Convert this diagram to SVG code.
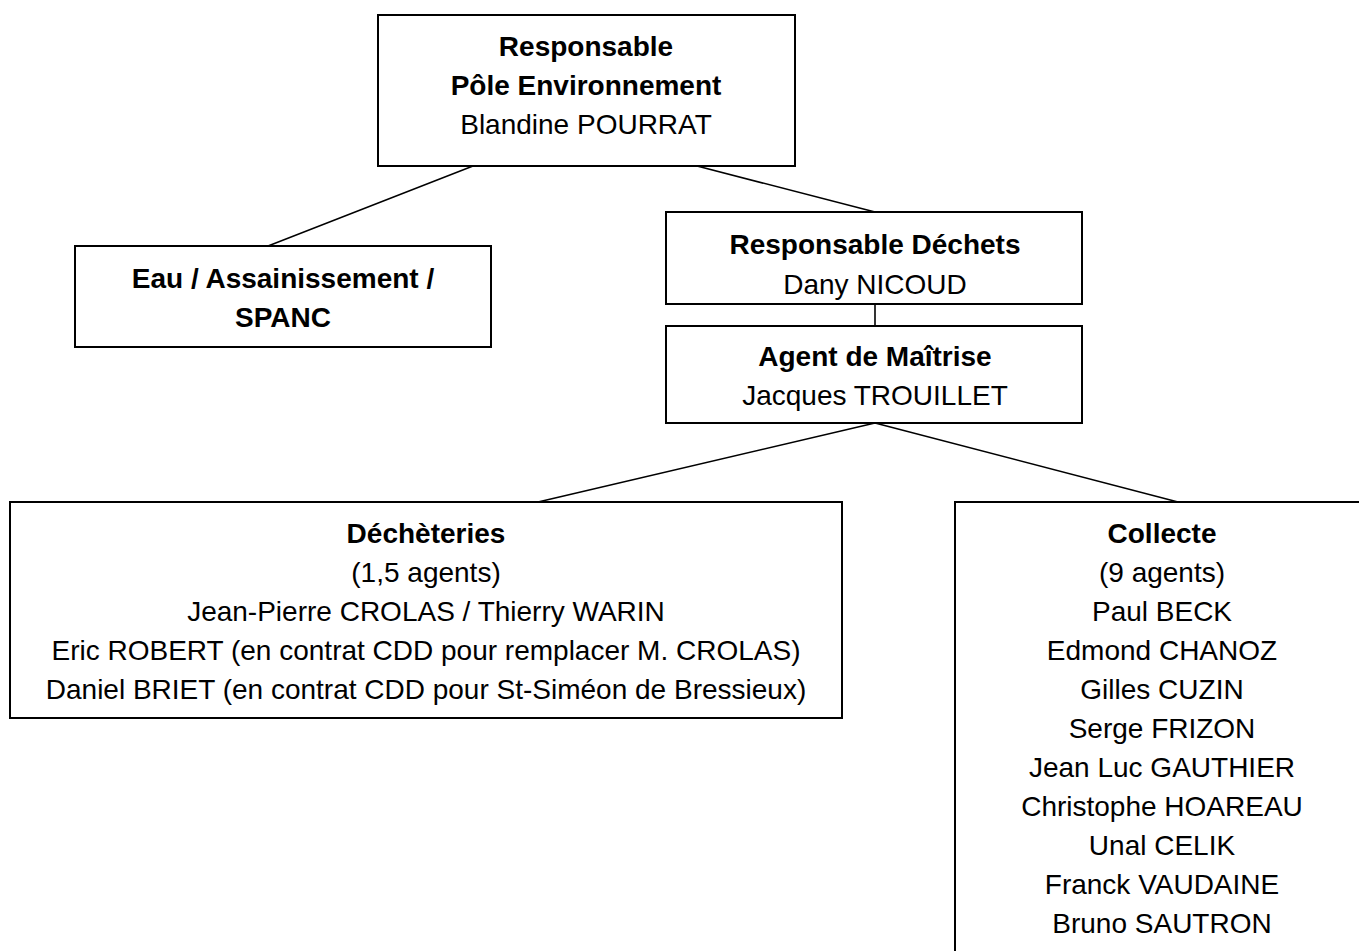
<svg xmlns="http://www.w3.org/2000/svg" width="1359" height="951" viewBox="0 0 1359 951">
<style>
.box{fill:#fff;stroke:#000;stroke-width:2}
.t{font-family:"Liberation Sans",Arial,sans-serif;font-size:28px;fill:#000;text-anchor:middle}
.b{font-weight:bold}
.c{stroke:#000;stroke-width:1.6;fill:none}
</style>
<rect width="1359" height="951" fill="#fff"/>
<g id="connectors">
<line class="c" x1="473" y1="166" x2="268" y2="246"/>
<line class="c" x1="697" y1="166" x2="875" y2="212"/>
<line class="c" x1="875" y1="304" x2="875" y2="326"/>
<line class="c" x1="875" y1="423" x2="538" y2="502"/>
<line class="c" x1="875" y1="423" x2="1178" y2="502"/>
</g>
<g id="responsable-pole">
<rect class="box" x="378" y="15" width="417" height="151"/>
<text class="t b" x="586" y="56">Responsable</text>
<text class="t b" x="586" y="95">Pôle Environnement</text>
<text class="t" x="586" y="134">Blandine POURRAT</text>
</g>
<g id="eau">
<rect class="box" x="75" y="246" width="416" height="101"/>
<text class="t b" x="283" y="288">Eau / Assainissement /</text>
<text class="t b" x="283" y="327">SPANC</text>
</g>
<g id="responsable-dechets">
<rect class="box" x="666" y="212" width="416" height="92"/>
<text class="t b" x="875" y="254">Responsable Déchets</text>
<text class="t" x="875" y="294">Dany NICOUD</text>
</g>
<g id="agent-maitrise">
<rect class="box" x="666" y="326" width="416" height="97"/>
<text class="t b" x="875" y="366">Agent de Maîtrise</text>
<text class="t" x="875" y="405">Jacques TROUILLET</text>
</g>
<g id="decheteries">
<rect class="box" x="10" y="502" width="832" height="216"/>
<text class="t b" x="426" y="543">Déchèteries</text>
<text class="t" x="426" y="582">(1,5 agents)</text>
<text class="t" x="426" y="621">Jean-Pierre CROLAS / Thierry WARIN</text>
<text class="t" x="426" y="660">Eric ROBERT (en contrat CDD pour remplacer M. CROLAS)</text>
<text class="t" x="426" y="699">Daniel BRIET (en contrat CDD pour St-Siméon de Bressieux)</text>
</g>
<g id="collecte">
<path class="box" d="M955,960 V502 H1370"/>
<text class="t b" x="1162" y="543">Collecte</text>
<text class="t" x="1162" y="582">(9 agents)</text>
<text class="t" x="1162" y="621">Paul BECK</text>
<text class="t" x="1162" y="660">Edmond CHANOZ</text>
<text class="t" x="1162" y="699">Gilles CUZIN</text>
<text class="t" x="1162" y="738">Serge FRIZON</text>
<text class="t" x="1162" y="777">Jean Luc GAUTHIER</text>
<text class="t" x="1162" y="816">Christophe HOAREAU</text>
<text class="t" x="1162" y="855">Unal CELIK</text>
<text class="t" x="1162" y="894">Franck VAUDAINE</text>
<text class="t" x="1162" y="933">Bruno SAUTRON</text>
</g>
</svg>
